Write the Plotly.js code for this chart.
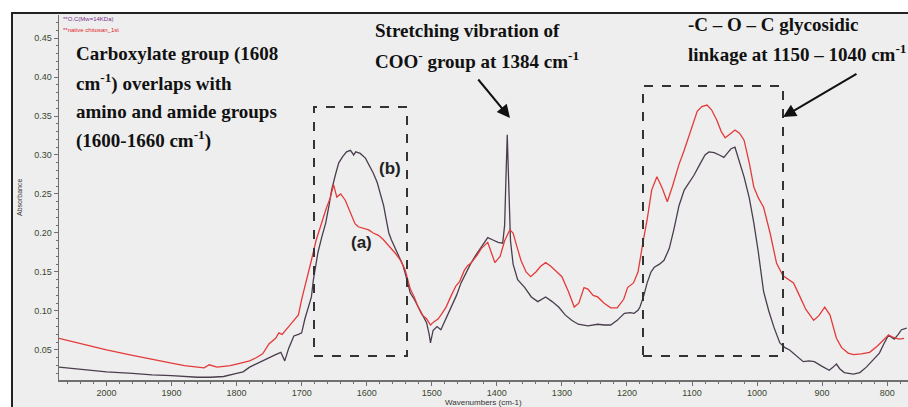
<!DOCTYPE html>
<html>
<head>
<meta charset="utf-8">
<script src="https://cdn.plot.ly/plotly-3.0.1.min.js"></script>
<style>html,body{margin:0;padding:0;background:#fff;}#chart{width:908px;height:407px;}</style>
</head>
<body>
<div id="chart"></div>
<script>
// Wavenumbers (cm-1) and absorbance, native chitosan (a)
const wnNative = [2073,2040,2000,1960,1920,1900,1880,1860,1850,1842,1830,1820,1810,1800,1790,1780,1770,1760,1750,1740,1735,1730,1720,1712,1705,1700,1692,1685,1678,1669,1662,1656,1651,1646,1640,1633,1628,1623,1618,1613,1605,1597,1590,1582,1575,1567,1560,1556,1548,1541,1533,1527,1521,1515,1508,1502,1497,1490,1485,1478,1470,1463,1457,1450,1445,1440,1430,1424,1414,1408,1403,1395,1388,1380,1375,1370,1363,1355,1348,1340,1333,1325,1318,1310,1300,1290,1281,1274,1266,1260,1252,1245,1235,1225,1215,1205,1199,1190,1183,1175,1169,1162,1154,1146,1138,1130,1120,1112,1100,1092,1085,1077,1070,1062,1055,1049,1040,1034,1027,1020,1012,1005,998,990,980,970,960,950,944,935,925,913,905,896,888,878,870,860,852,840,827,815,805,798,790,782,774];
const absNative = [0.065,0.058,0.050,0.043,0.036,0.033,0.030,0.028,0.027,0.031,0.028,0.029,0.030,0.032,0.034,0.036,0.040,0.045,0.058,0.065,0.072,0.070,0.080,0.088,0.095,0.115,0.140,0.165,0.190,0.215,0.232,0.245,0.262,0.246,0.250,0.242,0.232,0.220,0.212,0.208,0.206,0.204,0.200,0.197,0.192,0.185,0.178,0.174,0.165,0.153,0.128,0.118,0.105,0.095,0.090,0.082,0.086,0.090,0.096,0.105,0.120,0.132,0.138,0.152,0.158,0.161,0.172,0.180,0.188,0.175,0.162,0.170,0.190,0.204,0.200,0.185,0.165,0.150,0.144,0.150,0.157,0.162,0.158,0.152,0.144,0.125,0.105,0.110,0.130,0.128,0.120,0.118,0.110,0.104,0.104,0.115,0.130,0.136,0.150,0.190,0.217,0.255,0.272,0.258,0.240,0.260,0.288,0.306,0.335,0.356,0.362,0.364,0.358,0.345,0.330,0.322,0.328,0.332,0.328,0.319,0.290,0.259,0.245,0.233,0.200,0.161,0.145,0.140,0.136,0.120,0.102,0.088,0.094,0.105,0.095,0.065,0.053,0.046,0.044,0.045,0.047,0.055,0.064,0.069,0.066,0.064,0.065];

// Wavenumbers (cm-1) and absorbance, O.C (Mw=14 kDa) (b)
const wnOC = [2073,2040,2000,1960,1930,1900,1880,1860,1840,1820,1800,1790,1780,1770,1760,1750,1740,1732,1726,1720,1712,1705,1700,1695,1690,1685,1682,1675,1669,1663,1658,1654,1648,1643,1637,1631,1625,1620,1617,1610,1602,1596,1590,1584,1579,1574,1570,1566,1562,1556,1551,1545,1541,1537,1533,1527,1521,1515,1508,1504,1502,1498,1492,1486,1478,1470,1462,1455,1448,1440,1432,1424,1418,1414,1406,1398,1391,1388,1386,1384,1382,1379,1375,1368,1357,1347,1337,1325,1315,1305,1295,1285,1275,1260,1245,1235,1225,1215,1204,1195,1189,1183,1180,1174,1169,1163,1158,1150,1143,1135,1128,1120,1112,1104,1097,1088,1080,1074,1066,1058,1051,1045,1040,1034,1028,1020,1012,1005,998,990,982,974,965,957,950,940,929,920,912,900,889,883,878,873,866,852,842,832,820,812,805,798,793,789,783,778,770];
const absOC = [0.028,0.025,0.022,0.020,0.018,0.017,0.016,0.015,0.015,0.016,0.020,0.022,0.028,0.032,0.037,0.040,0.044,0.047,0.036,0.052,0.068,0.070,0.072,0.090,0.105,0.118,0.140,0.175,0.195,0.213,0.235,0.255,0.275,0.290,0.298,0.304,0.306,0.300,0.304,0.302,0.296,0.287,0.277,0.265,0.251,0.235,0.217,0.200,0.191,0.180,0.169,0.160,0.149,0.135,0.123,0.115,0.105,0.095,0.085,0.070,0.059,0.075,0.080,0.076,0.090,0.105,0.120,0.136,0.148,0.161,0.172,0.182,0.190,0.194,0.191,0.188,0.187,0.210,0.270,0.326,0.270,0.190,0.160,0.140,0.130,0.118,0.112,0.118,0.112,0.105,0.095,0.088,0.083,0.081,0.083,0.082,0.082,0.088,0.097,0.098,0.097,0.101,0.105,0.120,0.136,0.150,0.156,0.160,0.165,0.180,0.204,0.235,0.255,0.265,0.274,0.288,0.300,0.304,0.303,0.300,0.297,0.303,0.308,0.310,0.295,0.272,0.245,0.213,0.175,0.125,0.100,0.079,0.059,0.053,0.050,0.043,0.035,0.036,0.035,0.029,0.024,0.028,0.032,0.026,0.021,0.019,0.021,0.028,0.038,0.046,0.058,0.069,0.066,0.064,0.070,0.076,0.078];

const xTicks = [2000,1900,1800,1700,1600,1500,1400,1300,1200,1100,1000,900,800];
const yTicks = [0.05,0.10,0.15,0.20,0.25,0.30,0.35,0.40,0.45];
const seriesNames = ['**O.C(Mw=14KDa)', '**native chitosan_1st'];

const W = 908, H = 407, L = 59, R = 0, T = 15, B = 27;
const pw = W - L - R, ph = H - T - B;
const px = v => (v - L) / pw;
const py = v => (H - B - v) / ph;

const traces = [
  {x: wnOC, y: absOC, type: 'scatter', mode: 'lines', name: seriesNames[0],
   line: {color: '#4a3d4e', width: 1.3}},
  {x: wnNative, y: absNative, type: 'scatter', mode: 'lines', name: seriesNames[1],
   line: {color: '#e43a3a', width: 1.3}}
];

const serif = 'Liberation Serif, Times New Roman, serif';
const sans = 'Liberation Sans, Arial, sans-serif';
function txt(text, x, y, size, opts) {
  return Object.assign({text: text, xref: 'paper', yref: 'paper', x: px(x), y: py(y),
    xanchor: 'left', yanchor: 'middle', showarrow: false, borderpad: 0,
    font: {family: serif, size: size, color: '#111', weight: 700}}, opts || {});
}

const annotations = [
  txt('Carboxylate group (1608', 75, 54, 19),
  txt('cm<sup>-1</sup>) overlaps with', 75, 82, 19),
  txt('amino and amide groups', 75, 111, 19),
  txt('(1600-1660 cm<sup>-1</sup>)', 75, 139, 19),
  txt('Stretching vibration of', 374, 30, 19),
  txt('COO<sup>-</sup> group at 1384 cm<sup>-1</sup>', 374, 60, 19),
  txt('-C – O – C glycosidic', 687, 24, 19),
  txt('linkage at 1150 – 1040 cm<sup>-1</sup>', 687, 53, 19),
  txt('(b)', 390, 168, 17, {xanchor: 'center', font: {family: sans, size: 17, color: '#222', weight: 700}}),
  txt('(a)', 361, 242, 17, {xanchor: 'center', font: {family: sans, size: 17, color: '#222', weight: 700}}),
  txt(seriesNames[0], 62, 19, 6, {font: {family: sans, size: 6, color: '#7a2e8c'}}),
  txt(seriesNames[1], 62, 30, 6, {font: {family: sans, size: 6, color: '#e02828'}}),
  txt('Absorbance', 19, 198, 7, {xanchor: 'center', textangle: -90, font: {family: sans, size: 7, color: '#333'}}),
  txt('Wavenumbers (cm-1)', 483, 402, 8, {xanchor: 'center', font: {family: sans, size: 8, color: '#333'}}),
  {xref: 'paper', yref: 'paper', x: px(510), y: py(118), ax: -33, ay: -40, text: '',
   showarrow: true, arrowhead: 2, arrowsize: 1.3, arrowwidth: 2, arrowcolor: '#111'},
  {xref: 'paper', yref: 'paper', x: px(783), y: py(117), ax: 75, ay: -44, text: '',
   showarrow: true, arrowhead: 2, arrowsize: 1.3, arrowwidth: 2, arrowcolor: '#111'}
];

const shapes = [
  {type: 'rect', xref: 'paper', yref: 'paper', x0: px(12), x1: px(940), y0: py(440), y1: py(13),
   fillcolor: '#eeeeee', line: {color: '#222', width: 2}, layer: 'below'},
  {type: 'rect', xref: 'paper', yref: 'paper', x0: px(314), x1: px(407), y0: py(356), y1: py(107),
   line: {color: '#333', width: 2, dash: 'dash'}},
  {type: 'rect', xref: 'paper', yref: 'paper', x0: px(643), x1: px(783), y0: py(356), y1: py(86),
   line: {color: '#333', width: 2, dash: 'dash'}}
];

const tickFont = {family: sans, size: 9, color: '#3b4630'};
const layout = {
  width: W, height: H,
  margin: {l: L, r: R, t: T, b: B, pad: 0},
  paper_bgcolor: '#ffffff', plot_bgcolor: '#eeeeee',
  showlegend: false,
  xaxis: {range: [2073, 768], tickvals: xTicks, ticktext: xTicks.map(String),
    showgrid: false, zeroline: false, showline: true, linecolor: '#707070', linewidth: 1.5,
    ticks: 'outside', ticklen: 4, tickcolor: '#707070', tickfont: tickFont,
    minor: {dtick: 20, ticks: 'outside', ticklen: 2, tickcolor: '#707070'}},
  yaxis: {range: [0.0115, 0.4795], tickvals: yTicks, ticktext: yTicks.map(v => v.toFixed(2)),
    showgrid: false, zeroline: false, showline: true, linecolor: '#707070', linewidth: 1.5,
    ticks: 'outside', ticklen: 4, tickcolor: '#707070', tickfont: tickFont,
    minor: {dtick: 0.01, ticks: 'outside', ticklen: 2, tickcolor: '#707070'}},
  annotations: annotations,
  shapes: shapes
};

Plotly.newPlot('chart', traces, layout, {staticPlot: true, displayModeBar: false});
</script>
</body>
</html>
